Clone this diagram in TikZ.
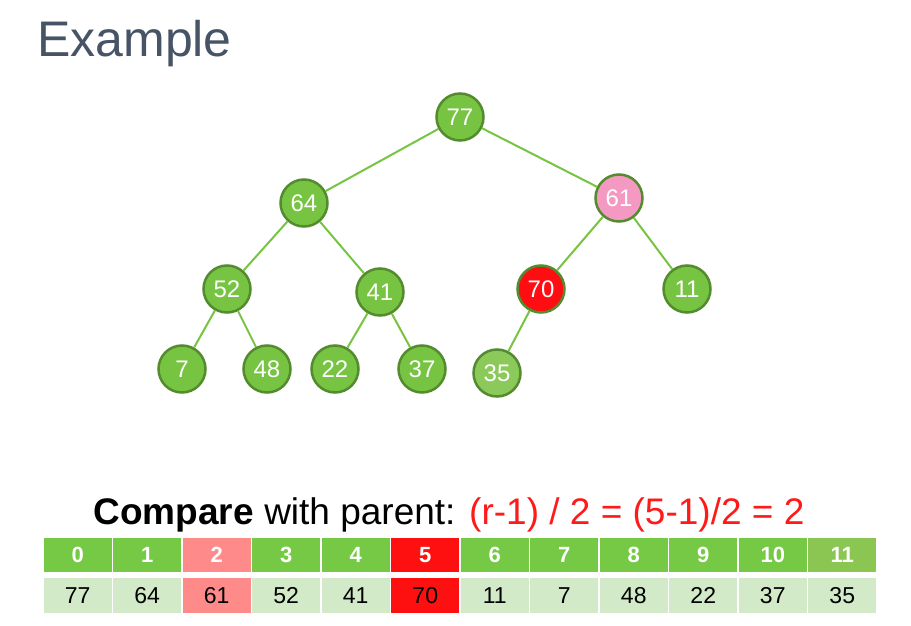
\documentclass[tikz,border=0pt]{standalone}
\usepackage{fontspec}
\setmainfont{Liberation Sans}
\definecolor{ngreen}{HTML}{76C442}
\definecolor{nborder}{HTML}{558B2F}
\definecolor{npink}{HTML}{F49AC2}
\definecolor{nred}{HTML}{FF0D12}
\definecolor{nlight}{HTML}{8BC95A}
\definecolor{egreen}{HTML}{76C442}
\definecolor{titlecol}{HTML}{465466}
\definecolor{hgreen}{HTML}{76C944}
\definecolor{hlast}{HTML}{8BC653}
\definecolor{tpink}{HTML}{FF8A8A}
\definecolor{tred}{HTML}{FF1010}
\definecolor{vgreen}{HTML}{D3EAC8}
\definecolor{txtred}{HTML}{FF1A1A}
\begin{document}
\begin{tikzpicture}[x=1pt,y=-1pt,
  hnode/.style={circle,draw=nborder,line width=2.5pt,fill=ngreen,minimum size=47pt,inner sep=0pt,
    text=white,font=\fontsize{24}{26}\selectfont},
  hedge/.style={draw=egreen,line width=2pt},
  hcell/.style={draw=white,line width=1.5pt,minimum width=69.5pt,minimum height=36pt,inner sep=0pt,
    fill=hgreen,text=white,font=\bfseries\fontsize{22}{24}\selectfont},
  vcell/.style={draw=white,line width=1.5pt,minimum width=69.5pt,minimum height=36pt,inner sep=0pt,
    fill=vgreen,text=black,font=\fontsize{23}{25}\selectfont}]
\path[use as bounding box] (0,0) rectangle (911,626);
\node[anchor=base west,text=titlecol,font=\fontsize{50}{52}\selectfont,inner sep=0pt] (title) at (37,57) {Example};
% tree nodes
\node[hnode] (n77) at (460,117) {77};
\node[hnode] (n64) at (304,203) {64};
\node[hnode,fill=npink] (n61) at (619,198) {61};
\node[hnode] (n52) at (227,289) {52};
\node[hnode] (n41) at (380,292) {41};
\node[hnode,fill=nred] (n70) at (541,289) {70};
\node[hnode] (n11) at (687,289) {11};
\node[hnode] (n7) at (182,369) {7};
\node[hnode] (n48) at (267,369) {48};
\node[hnode] (n22) at (335,369) {22};
\node[hnode] (n37) at (422,369) {37};
\node[hnode,fill=nlight] (n35) at (497,373) {35};
\path[hedge] (n77) -- (n64) (n77) -- (n61)
  (n64) -- (n52) (n64) -- (n41)
  (n61) -- (n70) (n61) -- (n11)
  (n52) -- (n7) (n52) -- (n48)
  (n41) -- (n22) (n41) -- (n37)
  (n70) -- (n35);
% formula
\node[anchor=base,inner sep=0pt,font=\fontsize{37}{40}\selectfont] (formula) at (449,524)
  {\textbf{Compare} with parent: \textcolor{txtred}{(r-1) / 2 = (5-1)/2 = 2}};
% table
\foreach \i/\v in {0/77,1/64,2/61,3/52,4/41,5/70,6/11,7/7,8/48,9/22,10/37,11/35}{
  \pgfmathsetmacro{\cx}{43+69.5*\i+34.75}
  \ifnum\i=2
    \node[hcell,fill=tpink] (h\i) at (\cx,555) {\i};
    \node[vcell,fill=tpink] (v\i) at (\cx,595.5) {\v};
  \else\ifnum\i=5
    \node[hcell,fill=tred] (h\i) at (\cx,555) {\i};
    \node[vcell,fill=tred] (v\i) at (\cx,595.5) {\v};
  \else\ifnum\i=11
    \node[hcell,fill=hlast] (h\i) at (\cx,555) {\i};
    \node[vcell] (v\i) at (\cx,595.5) {\v};
  \else
    \node[hcell] (h\i) at (\cx,555) {\i};
    \node[vcell] (v\i) at (\cx,595.5) {\v};
  \fi\fi\fi
}
\end{tikzpicture}
\end{document}
